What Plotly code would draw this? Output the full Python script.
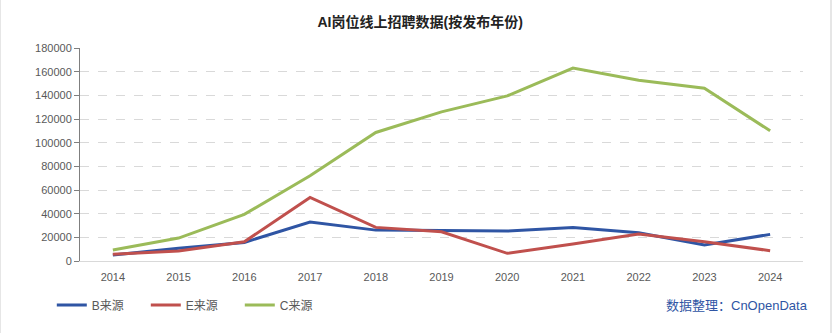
import plotly.graph_objects as go

years = ["2014", "2015", "2016", "2017", "2018", "2019", "2020", "2021", "2022", "2023", "2024"]
b_src = [5000, 10700, 15700, 32900, 26100, 25900, 25300, 28400, 23900, 13500, 22500]
e_src = [5600, 8400, 16300, 53700, 28400, 24700, 6500, 14300, 22800, 16300, 8700]
c_src = [9300, 19400, 39400, 72000, 108600, 126000, 139500, 163100, 152700, 146000, 110000]
y_ticks = [0, 20000, 40000, 60000, 80000, 100000, 120000, 140000, 160000, 180000]

FONT = "Liberation Sans, Noto Sans CJK SC, sans-serif"

fig = go.Figure()
for name, vals, color in [("B来源", b_src, "#2f55a4"),
                          ("E来源", e_src, "#c0504d"),
                          ("C来源", c_src, "#9bbb59")]:
    fig.add_trace(go.Scatter(x=years, y=vals, name=name, mode="lines",
                             line=dict(color=color, width=3)))

fig.update_layout(
    width=832, height=333,
    margin=dict(l=80, r=29, t=48, b=72, autoexpand=False),
    paper_bgcolor="white", plot_bgcolor="white",
    font=dict(family=FONT, size=11, color="#595959"),
    title=dict(text="<b>AI岗位线上招聘数据(按发布年份)</b>", x=0.505, xanchor="center",
               y=0.934, yanchor="middle",
               font=dict(family=FONT, size=14, color="#222222")),
    showlegend=True,
    legend=dict(orientation="h", x=-0.039, xanchor="left", y=-0.207, yanchor="middle",
                font=dict(family=FONT, size=12, color="#595959"),
                itemwidth=30, entrywidth=49, entrywidthmode="pixels",
                tracegroupgap=0, bgcolor="rgba(0,0,0,0)"),
    xaxis=dict(type="category", range=[-0.5, 10.5], showgrid=False,
               showline=True, linecolor="#d9d9d9", linewidth=1,
               ticks="", tickfont=dict(size=11, color="#595959"), ticklabelstandoff=6),
    yaxis=dict(range=[0, 180000], tickvals=y_ticks, tickformat="d",
               showgrid=True, gridcolor="#d9d9d9", griddash="dash", gridwidth=1,
               showline=True, linecolor="#7f7f7f", linewidth=1,
               ticks="outside", ticklen=5, tickcolor="#7f7f7f",
               zeroline=False, tickfont=dict(size=11, color="#595959")),
    annotations=[dict(text="数据整理：CnOpenData", xref="paper", yref="paper",
                      x=1.01, y=-0.207, xanchor="right", yanchor="middle", showarrow=False,
                      font=dict(family=FONT, size=13, color="#2f55a4"))],
    shapes=[dict(type="line", xref="paper", yref="paper", x0=-80/723, x1=-80/723,
                 y0=-72/213, y1=1 + 48/213, line=dict(color="#e6e6e6", width=2)),
            dict(type="line", xref="paper", yref="paper", x0=1 + 28/723, x1=1 + 28/723,
                 y0=-72/213, y1=1 + 48/213, line=dict(color="#e6e6e6", width=2))],
)

fig.write_html("out.html")
